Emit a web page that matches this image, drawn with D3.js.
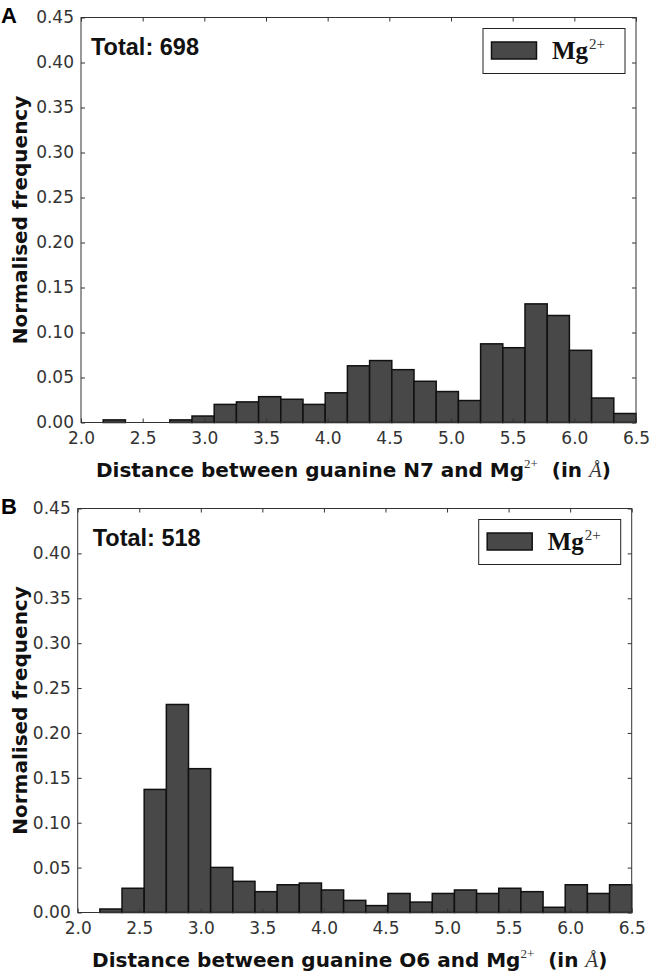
<!DOCTYPE html>
<html>
<head>
<meta charset="utf-8">
<script src="https://cdn.jsdelivr.net/npm/d3@7"></script>
<style>
  body { margin: 0; background: #fff; }
  svg { display: block; }
  .tick text { font-family: "DejaVu Sans", sans-serif; font-size: 17px; fill: #333; }
  .tick line { stroke: #333; }
  .domain { display: none; }
</style>
</head>
<body>
<div id="chart"></div>
<script>
// bin edges (Å), shared by both histograms
var binEdges = [2.00, 2.18, 2.36, 2.54, 2.72, 2.90, 3.08, 3.26, 3.44, 3.62, 3.80, 3.98, 4.16,
                4.34, 4.52, 4.70, 4.88, 5.06, 5.24, 5.42, 5.60, 5.78, 5.96, 6.14, 6.32, 6.50];

// normalised frequency per bin, panel A (guanine N7 - Mg2+)
var freqN7 = [0.000, 0.0029, 0.000, 0.000, 0.0029, 0.0072, 0.0201, 0.0229, 0.0287, 0.0258,
              0.0201, 0.0330, 0.0630, 0.0688, 0.0587, 0.0458, 0.0344, 0.0244, 0.0874, 0.0831,
              0.1318, 0.1189, 0.0802, 0.0272, 0.0100];

// normalised frequency per bin, panel B (guanine O6 - Mg2+)
var freqO6 = [0.000, 0.0039, 0.0270, 0.1371, 0.2317, 0.1602, 0.0502, 0.0347, 0.0232, 0.0309,
              0.0328, 0.0251, 0.0135, 0.0077, 0.0212, 0.0116, 0.0212, 0.0251, 0.0212, 0.0270,
              0.0232, 0.0058, 0.0309, 0.0212, 0.0309];

var xTicks = [2.0, 2.5, 3.0, 3.5, 4.0, 4.5, 5.0, 5.5, 6.0, 6.5];
var yTicks = [0.00, 0.05, 0.10, 0.15, 0.20, 0.25, 0.30, 0.35, 0.40, 0.45];

var panels = [
  {letter: 'A', atom: 'N7', total: 698, freq: freqN7,
   left: 81, right: 636, top: 17.5, bottom: 422.5, totalDx: 10},
  {letter: 'B', atom: 'O6', total: 518, freq: freqO6,
   left: 77.7, right: 631.7, top: 508.5, bottom: 912.5, totalDx: 15}
];

var svg = d3.select('#chart').append('svg')
  .attr('width', 656)
  .attr('height', 980);

panels.forEach(drawPanel);

function drawPanel(p) {
  var x = d3.scaleLinear().domain([2.0, 6.5]).range([p.left, p.right]);
  var y = d3.scaleLinear().domain([0, 0.45]).range([p.bottom, p.top]);

  var g = svg.append('g');

  // bars
  var bins = p.freq.map(function(v, i) { return {x0: binEdges[i], x1: binEdges[i + 1], v: v}; });
  g.selectAll('rect.bar')
    .data(bins.filter(function(d) { return d.v > 0; }))
    .enter().append('rect')
      .attr('class', 'bar')
      .attr('x', function(d) { return x(d.x0); })
      .attr('y', function(d) { return y(d.v); })
      .attr('width', function(d) { return x(d.x1) - x(d.x0); })
      .attr('height', function(d) { return y(0) - y(d.v); })
      .style('fill', '#484848')
      .style('stroke', '#111')
      .style('stroke-width', 1.5);

  // axes, ticks pointing inward on all four sides
  g.append('g')
    .attr('transform', 'translate(0,' + p.bottom + ')')
    .call(d3.axisBottom(x).tickValues(xTicks).tickSize(-4).tickPadding(9).tickFormat(d3.format('.1f')));
  g.append('g')
    .attr('transform', 'translate(0,' + p.top + ')')
    .call(d3.axisTop(x).tickValues(xTicks).tickSize(-4).tickFormat(''));
  g.append('g')
    .attr('transform', 'translate(' + p.left + ',0)')
    .call(d3.axisLeft(y).tickValues(yTicks).tickSize(-4).tickPadding(7).tickFormat(d3.format('.2f')));
  g.append('g')
    .attr('transform', 'translate(' + p.right + ',0)')
    .call(d3.axisRight(y).tickValues(yTicks).tickSize(-4).tickFormat(''));

  // frame
  g.append('rect')
    .attr('x', p.left).attr('y', p.top)
    .attr('width', p.right - p.left).attr('height', p.bottom - p.top)
    .style('fill', 'none').style('stroke', '#333').style('stroke-width', 1);

  // panel letter
  g.append('text')
    .attr('x', 1).attr('y', p.top + 5)
    .style('font-family', 'Liberation Sans, Arial, sans-serif')
    .style('font-weight', 'bold').style('font-size', '22px')
    .text(p.letter);

  // total
  g.append('text')
    .attr('x', p.left + p.totalDx).attr('y', p.top + 37)
    .style('font-family', 'Liberation Sans, Arial, sans-serif')
    .style('font-weight', 'bold').style('font-size', '23.5px')
    .style('fill', '#111')
    .text('Total: ' + p.total);

  // legend
  var lg = g.append('g').attr('transform', 'translate(' + (p.right - 153) + ',' + (p.top + 11) + ')');
  lg.append('rect')
    .attr('width', 142).attr('height', 45)
    .style('fill', '#fff').style('stroke', '#222').style('stroke-width', 1);
  lg.append('rect')
    .attr('x', 8.5).attr('y', 13.5).attr('width', 45).attr('height', 17)
    .style('fill', '#484848').style('stroke', '#111').style('stroke-width', 1.5);
  var lt = lg.append('text')
    .attr('x', 69).attr('y', 30)
    .style('font-family', 'Liberation Serif, Times New Roman, serif')
    .style('fill', '#111');
  lt.append('tspan').style('font-weight', 'bold').style('font-size', '25px').text('Mg');
  lt.append('tspan').attr('dx', 1).attr('dy', -10).style('font-size', '15px').style('fill', '#333').text('2+');

  // x label
  var xl = g.append('text')
    .attr('x', (p.left + p.right) / 2 - 5).attr('y', p.bottom + 54)
    .attr('text-anchor', 'middle')
    .style('font-family', 'DejaVu Sans, sans-serif')
    .style('font-weight', 'bold').style('font-size', '20px')
    .style('fill', '#111');
  xl.append('tspan').text('Distance between guanine ' + p.atom + ' and Mg');
  xl.append('tspan').attr('dy', -9)
    .style('font-family', 'Liberation Serif, serif').style('font-weight', 'normal').style('font-size', '13px')
    .style('fill', '#333')
    .text('2+');
  xl.append('tspan').attr('dy', 9).text('\u00a0 (in ');
  xl.append('tspan')
    .style('font-family', 'Liberation Serif, serif').style('font-weight', 'normal').style('font-style', 'italic')
    .style('font-size', '21px').style('fill', '#333')
    .text('\u00c5');
  xl.append('tspan').text(')');

  // y label
  g.append('text')
    .attr('transform', 'translate(27,' + ((p.top + p.bottom) / 2) + ') rotate(-90)')
    .attr('text-anchor', 'middle')
    .style('font-family', 'DejaVu Sans, sans-serif')
    .style('font-weight', 'bold').style('font-size', '20px')
    .style('fill', '#111')
    .text('Normalised frequency');
}
</script>
</body>
</html>
